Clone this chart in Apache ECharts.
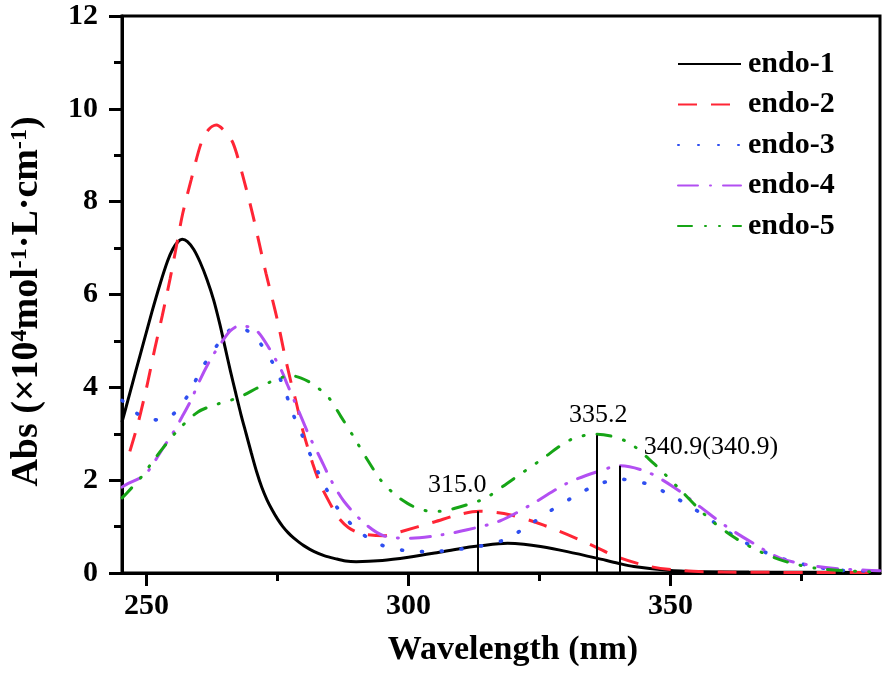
<!DOCTYPE html>
<html>
<head>
<meta charset="utf-8">
<script src="https://cdn.jsdelivr.net/npm/echarts@6/dist/echarts.min.js"></script>
<style>
  html, body { margin: 0; padding: 0; background: #fff; }
  #main { width: 886px; height: 673px; }
</style>
</head>
<body>
<div id="main"></div>
<script>
// absorbance curves, [wavelength nm, Abs x10^4]
var endo1 = [
  [245.3, 3.25], [246.5, 3.75], [248, 4.38], [249.5, 5.0], [251, 5.62], [252.5, 6.2],
  [254, 6.72], [255, 6.98], [256, 7.14], [256.8, 7.19], [257.8, 7.14], [259, 6.97],
  [260.2, 6.7], [261.5, 6.33], [262.8, 5.88], [264, 5.35], [265, 4.85], [266, 4.35],
  [267, 3.88], [268, 3.42], [269, 3.0], [270, 2.58], [271, 2.18], [272, 1.84],
  [273, 1.57], [274, 1.35], [275, 1.16], [276, 1.0], [277, 0.87], [278, 0.76],
  [279, 0.67], [280, 0.59], [282, 0.46], [284, 0.37], [286, 0.31], [288, 0.26],
  [290, 0.245], [295, 0.27], [300, 0.34], [305, 0.43],
  [310, 0.53], [313.3, 0.58], [318.9, 0.64], [322, 0.62], [325.2, 0.57], [330.3, 0.46],
  [335.9, 0.32], [340, 0.21], [343, 0.14], [349.4, 0.06], [355, 0.03], [365, 0.02], [390, 0.01]
];
var endo2 = [
  [246.8, 2.62], [248.3, 3.2], [250, 4.0], [251.5, 4.8], [253, 5.55], [254.5, 6.35],
  [255.7, 7.05], [256.9, 7.75], [258.5, 8.47], [260.4, 9.26], [261.8, 9.55], [263.3, 9.65],
  [264.9, 9.52], [266.5, 9.26], [268.4, 8.54], [270.3, 7.7], [271.5, 7.1], [272.8, 6.45],
  [274, 5.9], [275.1, 5.38], [276.3, 4.73], [277.6, 4.09], [278.5, 3.7], [279.8, 3.08],
  [281.7, 2.36], [283.2, 1.9], [285, 1.5], [286.5, 1.21], [288.5, 0.98], [291, 0.85],
  [295.3, 0.8], [298.5, 0.89], [304.9, 1.1], [310, 1.27], [313.5, 1.33], [319.5, 1.25],
  [325.8, 1.03], [332.8, 0.71], [339.8, 0.35], [346.1, 0.14], [352.5, 0.05], [360, 0.02], [390, 0.01]
];
var endo3 = [
  [245.3, 3.72], [246.5, 3.6], [248, 3.45], [250.3, 3.3], [252.5, 3.3], [254.6, 3.38],
  [256.5, 3.6], [258.2, 3.89], [260.5, 4.4], [263.6, 4.93], [265.5, 5.2], [267.4, 5.31],
  [269.5, 5.2], [271.5, 4.98], [274.3, 4.48], [276.3, 3.96], [277.9, 3.44], [279.8, 2.94],
  [281.7, 2.43], [283.9, 1.9], [286.5, 1.39], [290.6, 0.89], [295.1, 0.59], [299.5, 0.48],
  [304.3, 0.46], [308.7, 0.5], [313.3, 0.57], [318.2, 0.71], [322.6, 1.0], [326.8, 1.32],
  [331.5, 1.64], [336, 1.9], [340.4, 2.02], [345.2, 1.93], [350, 1.68], [354.4, 1.39],
  [358.6, 1.07], [363.4, 0.71], [367.8, 0.46], [372.2, 0.28], [377.3, 0.14], [382.4, 0.06],
  [387.5, 0.04], [390, 0.03]
];
var endo4 = [
  [245.3, 1.85], [246, 1.9], [249.6, 2.11], [251.5, 2.4], [253.3, 2.72], [255, 3.01],
  [256.8, 3.37], [258.5, 3.73], [260.1, 4.14], [262.3, 4.62], [264.2, 4.95], [266, 5.22],
  [267.8, 5.33], [269.5, 5.3], [271.2, 5.2], [273.4, 4.84], [275.7, 4.37], [276.9, 4.05],
  [278.8, 3.55], [281.1, 2.94], [283, 2.51], [285.2, 2.0], [287.7, 1.54], [291.6, 1.07],
  [295.3, 0.8], [300.5, 0.75], [306.2, 0.82], [311.2, 0.93], [317.4, 1.12], [323.8, 1.5],
  [330.2, 1.93], [336, 2.18], [340.4, 2.31], [345.5, 2.18], [350.5, 1.86], [355.6, 1.43],
  [360.7, 1.0], [365.8, 0.64], [370.9, 0.32], [376.6, 0.17], [381, 0.1], [387.4, 0.06], [390, 0.05]
];
var endo5 = [
  [245.3, 1.62], [246.2, 1.72], [249, 2.07], [250.9, 2.36], [253.1, 2.69], [256, 3.08],
  [259.8, 3.47], [263, 3.62], [266, 3.72], [268.5, 3.83], [271, 3.98], [273.7, 4.12],
  [276.3, 4.23], [277.6, 4.25], [279.5, 4.2], [281.4, 4.09], [284.6, 3.8], [287.1, 3.37],
  [289.7, 2.9], [292.2, 2.43], [294.7, 2.0], [297.5, 1.68], [299.8, 1.5], [302, 1.38],
  [304.3, 1.33], [306.5, 1.33], [308.7, 1.39], [313.1, 1.54], [315, 1.63], [318.8, 1.93],
  [325.2, 2.43], [330.9, 2.87], [335.9, 2.99], [341.7, 2.83], [346.8, 2.36], [351.9, 1.79],
  [357, 1.21], [362, 0.78], [367.1, 0.46], [372.2, 0.24], [377.9, 0.1], [383, 0.05], [390, 0.02]
];

var names = ['endo-1', 'endo-2', 'endo-3', 'endo-4', 'endo-5'];
var xMajor = [250, 300, 350];
var xMinor = [275, 325, 375];
// drop lines from the axis up to the peaks
var peakLines = [[313.3, 1.33], [335.9, 2.97], [340.4, 2.31]];
var peakLabels = [
  { name: '315.0', coord: [309.3, 1.9] },
  { name: '335.2', coord: [336.2, 3.4] },
  { name: '340.9(340.9)', coord: [344.8, 2.71] }
];

var font = '"Liberation Serif", "Times New Roman", serif';
var chart = echarts.init(document.getElementById('main'));

function curve(name, data, color, dash, cap, width) {
  return {
    name: name,
    type: 'line',
    data: data,
    smooth: 0.3,
    symbol: 'none',
    itemStyle: { color: color },
    lineStyle: { color: color, width: width || 3, type: dash, cap: cap || 'butt' }
  };
}

var s1 = curve(names[0], endo1, '#000000', 'solid');
s1.markLine = {
  symbol: 'none',
  silent: true,
  label: { show: false },
  lineStyle: { color: '#000', width: 2, type: 'solid' },
  data: peakLines.map(function (p) {
    return [{ coord: [p[0], 0] }, { coord: [p[0], p[1]] }];
  })
};
s1.markPoint = {
  symbol: 'circle',
  symbolSize: 1,
  silent: true,
  itemStyle: { color: 'rgba(0,0,0,0)' },
  label: {
    show: true,
    position: 'inside',
    formatter: '{b}',
    color: '#000',
    fontSize: 26,
    fontFamily: font
  },
  data: peakLabels.map(function (l, i) {
    var d = { name: l.name, coord: l.coord };
    if (i === 2) d.label = { position: 'right', distance: 0 };
    return d;
  })
};

var option = {
  backgroundColor: '#fff',
  animation: false,
  grid: {
    left: 121, right: 6, top: 16, bottom: 100,
    show: true, borderColor: '#000', borderWidth: 3
  },
  legend: {
    orient: 'vertical',
    left: 672,
    top: 44,
    itemWidth: 63,
    itemHeight: 14,
    itemGap: 10.5,
    data: names,
    itemStyle: { opacity: 0 },
    textStyle: { fontSize: 30, fontWeight: 'bold', fontFamily: font, color: '#000', padding: [0, 0, 0, 2] }
  },
  xAxis: [{
    type: 'value',
    min: 245.3,
    max: 390,
    name: 'Wavelength (nm)',
    nameLocation: 'middle',
    nameGap: 60,
    nameTextStyle: { fontSize: 34, fontWeight: 'bold', fontFamily: font, color: '#000', padding: [0, 0, 0, 24] },
    axisLine: { show: true, onZero: false, lineStyle: { color: '#000', width: 3 } },
    axisTick: { show: true, length: 13, customValues: xMajor, lineStyle: { color: '#000', width: 3 } },
    axisLabel: { customValues: xMajor, margin: 18, fontSize: 30, fontWeight: 'bold', fontFamily: font, color: '#000' },
    splitLine: { show: false }
  }, {
    type: 'value',
    min: 245.3,
    max: 390,
    position: 'bottom',
    axisLine: { show: false },
    axisTick: { show: true, length: 8, customValues: xMinor, lineStyle: { color: '#000', width: 3 } },
    axisLabel: { show: false },
    splitLine: { show: false }
  }],
  yAxis: {
    type: 'value',
    min: 0,
    max: 12,
    interval: 2,
    name: '{m|Abs (×10}{s|4}{m|mol}{s|-1}{m|·L·cm}{s|-1}{m|)}',
    nameLocation: 'middle',
    nameRotate: 90,
    nameGap: 76,
    nameTextStyle: {
      padding: [0, 14, 0, 0],
      rich: {
        m: { fontSize: 38, fontWeight: 'bold', fontFamily: font, color: '#000', lineHeight: 38, verticalAlign: 'bottom' },
        s: { fontSize: 24, fontWeight: 'bold', fontFamily: font, color: '#000', lineHeight: 24, padding: [0, 0, 18, 0], verticalAlign: 'top' }
      }
    },
    axisLine: { show: true, lineStyle: { color: '#000', width: 3 } },
    axisTick: { show: true, length: 13, lineStyle: { color: '#000', width: 3 } },
    minorTick: { show: true, splitNumber: 2, length: 8, lineStyle: { color: '#000', width: 3 } },
    axisLabel: { margin: 24, fontSize: 30, fontWeight: 'bold', fontFamily: font, color: '#000' },
    splitLine: { show: false }
  },
  series: [
    s1,
    curve(names[1], endo2, '#ff2535', [19, 14]),
    curve(names[2], endo3, '#2f4ff0', [1, 19], 'round', 3.6),
    curve(names[3], endo4, '#b24ff2', [20, 12, 1, 12], 'round'),
    curve(names[4], endo5, '#16a516', [14, 13, 1, 13, 1, 13], 'round')
  ]
};

chart.setOption(option);
</script>
</body>
</html>
